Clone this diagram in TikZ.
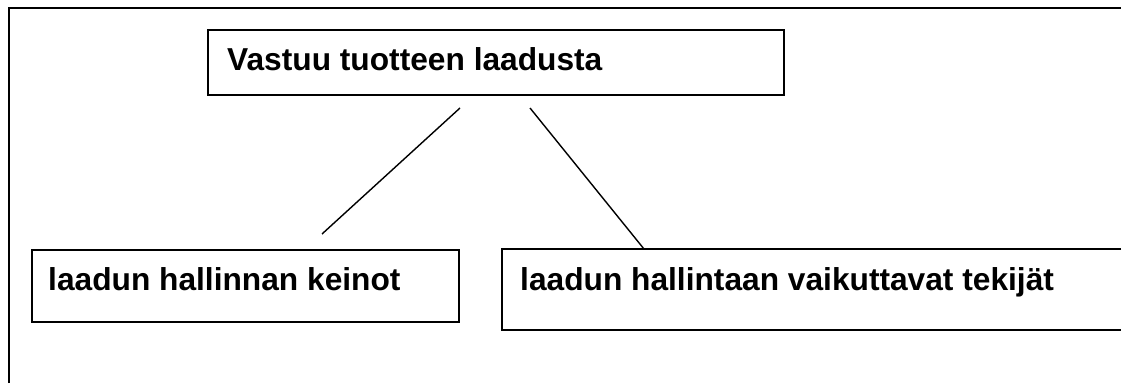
\documentclass[tikz,border=0pt]{standalone}
\usepackage{fontspec}
\setmainfont{Liberation Sans}
\usetikzlibrary{calc}
\begin{document}
\begin{tikzpicture}[x=1pt,y=-1pt,
  box/.style={draw=black, line width=2pt, inner sep=0pt, anchor=north west},
  lbl/.style={anchor=base west, inner sep=0pt, font=\fontsize{31.7}{38}\selectfont\bfseries},
  conn/.style={draw=black, line width=1.4pt}]
\fill[white] (0,0) rectangle (1126,383);
\useasboundingbox (0,0) rectangle (1126,383);
% outer frame
\draw[line width=2.6pt] (9,383) -- (9,8) -- (1121,8);
% boxes
\node[box, minimum width=576pt, minimum height=65pt] (top) at (207,29) {};
\node[box, minimum width=427pt, minimum height=72pt] (left) at (31,249) {};
\coordinate (rtl) at (502,249);
\coordinate (rtr) at (1121,249);
\coordinate (rbl) at (502,330);
\coordinate (rbr) at (1121,330);
\draw[line width=2pt] (rtr) -- (rtl) -- (rbl) -- (rbr);
% labels
\node[lbl] (ttop) at (227,70) {Vastuu tuotteen laadusta};
\node[lbl] (tleft) at (48,290) {laadun hallinnan keinot};
\node[lbl] (tright) at (520,290) {laadun hallintaan vaikuttavat tekijät};
% connectors
\coordinate (a1) at (460,108);
\coordinate (a2) at (322,234);
\coordinate (b1) at (530,108);
\coordinate (b2) at (644,249);
\draw[conn] (a1) -- (a2);
\draw[conn] (b1) -- (b2);
\end{tikzpicture}
\end{document}
